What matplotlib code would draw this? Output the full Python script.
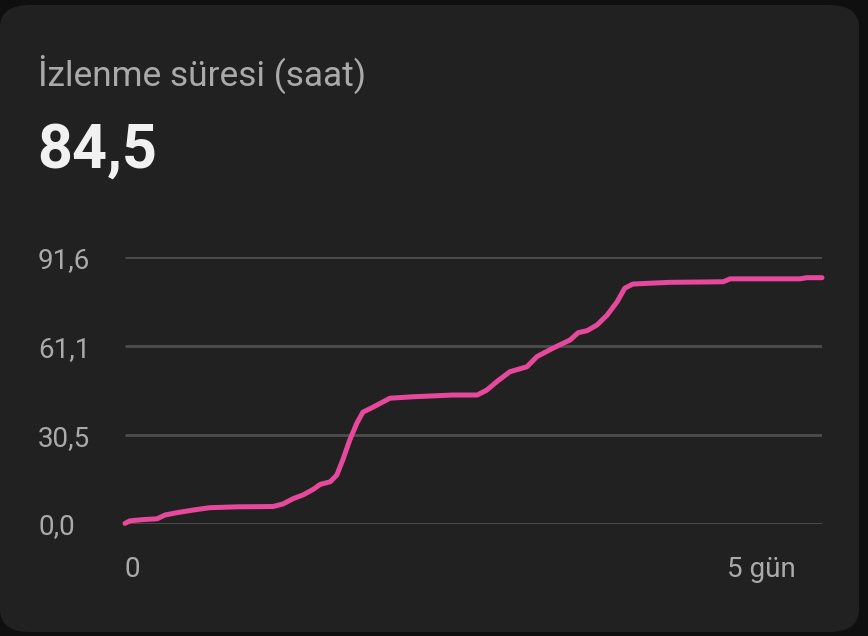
import matplotlib
matplotlib.use("Agg")
import matplotlib.pyplot as plt
from matplotlib.patches import FancyBboxPatch

# watch time (hours since start -> cumulative hours)
hours = [0, 1.0, 3.6, 6.4, 8.0, 10.4, 13.6, 16.9, 22.3, 29.5, 31.5, 33.5, 35.5,
         37.5, 38.9, 40.9, 42.2, 43.4, 44.8, 46.2, 47.4, 49.4, 52.8, 57.4, 65.4,
         70.2, 72.1, 74.1, 76.7, 80.1, 82.1, 85.3, 88.7, 90.3, 92.1, 94.1, 96.1,
         98.1, 99.6, 101.2, 104.6, 108.6, 119.2, 120.6, 134.5, 135.9, 138.9]
watch = [0.2, 1.1, 1.5, 1.8, 3.1, 3.9, 4.8, 5.6, 5.9, 6.0, 6.9, 8.7, 10.0,
         11.9, 13.6, 14.5, 16.8, 22.0, 28.9, 34.6, 38.4, 40.1, 43.2, 43.7, 44.3,
         44.3, 46.0, 48.9, 52.3, 54.0, 57.5, 60.4, 63.2, 65.7, 66.4, 68.4, 71.8,
         76.4, 81.0, 82.4, 82.7, 83.0, 83.2, 84.2, 84.2, 84.6, 84.6]

y_ticks = [0.0, 30.5, 61.1, 91.6]
y_labels = ["0,0", "30,5", "61,1", "91,6"]
x_ticks = [0, 120]
x_labels = ["0", "5 gün"]

title = "İzlenme süresi (saat)"
total = "84,5"

W, H = 868, 636
fig = plt.figure(figsize=(W / 100, H / 100), dpi=100)
fig.patch.set_facecolor("#0f0f0f")

# card background
card = FancyBboxPatch((0 / W, 1 - 632 / H), 859 / W, 627 / H,
                      boxstyle="round,pad=0,rounding_size=0.035",
                      transform=fig.transFigure, facecolor="#212121",
                      edgecolor="none", zorder=-5)
fig.patches.append(card)

fig.text(38 / W, 1 - 86 / H, title, fontsize=25.4, color="#aaaaaa",
         family="Roboto", va="baseline", ha="left")
fig.text(37 / W, 1 - 168 / H, total, fontsize=44, color="#f1f1f1",
         family="Roboto", weight="bold", va="baseline", ha="left")

ax = fig.add_axes([125 / W, 1 - 524 / H, 697 / W, 266.7 / H])
ax.set_zorder(2)
ax.set_facecolor("none")
ax.set_xlim(0, 138.9)
ax.set_ylim(0, 91.6)

for v in y_ticks:
    ax.axhline(v, color="#4d4d4d", lw=2.0, zorder=1, solid_capstyle="butt")

ax.plot(hours, watch, color="#e6489c", lw=3.6, zorder=3, clip_on=False,
        solid_joinstyle="round", solid_capstyle="round")

for s in ax.spines.values():
    s.set_visible(False)

ax.set_yticks(y_ticks)
ax.set_yticklabels(y_labels)
ax.set_xticks(x_ticks)
ax.set_xticklabels(x_labels)
ax.tick_params(axis="y", length=0, pad=62.6, labelsize=20, labelcolor="#aaaaaa")
ax.tick_params(axis="x", length=0, pad=23, labelsize=20, labelcolor="#aaaaaa")
for lab in ax.get_yticklabels():
    lab.set_horizontalalignment("left")
    lab.set_family("Roboto")
for lab in ax.get_xticklabels():
    lab.set_horizontalalignment("left")
    lab.set_family("Roboto")

fig.savefig("out.png", dpi=100, facecolor=fig.get_facecolor())
